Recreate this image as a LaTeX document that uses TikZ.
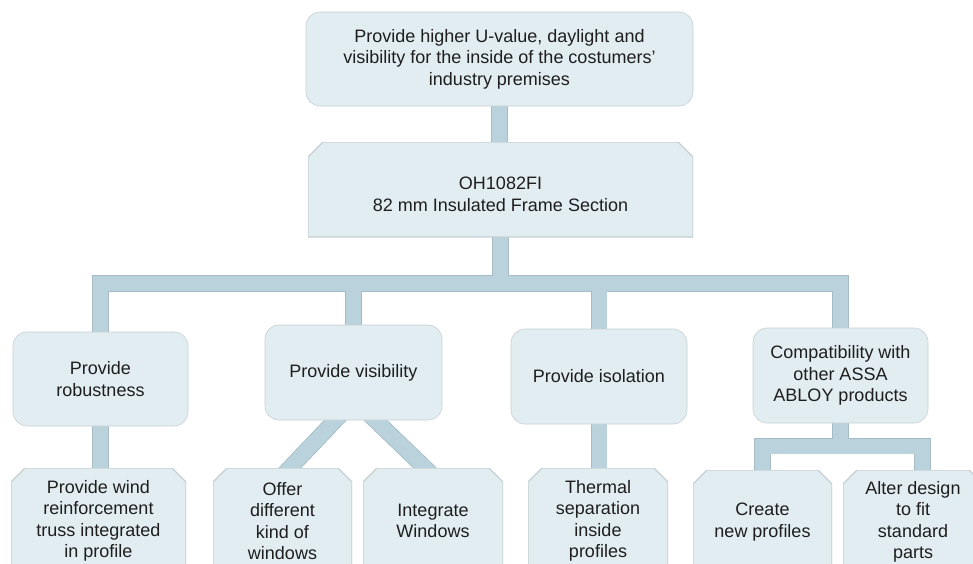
\documentclass[tikz,border=0pt]{standalone}
\usepackage{fontspec}
\setmainfont{Liberation Sans}
\usetikzlibrary{backgrounds}
\definecolor{boxfill}{HTML}{E2EDF1}
\definecolor{boxline}{HTML}{C6D0D4}
\definecolor{linkfill}{HTML}{B9D2DB}
\definecolor{linkedge}{HTML}{A6BCC4}
\definecolor{txt}{HTML}{1E1E1E}
\tikzset{
  box/.style={fill=boxfill, draw=boxline, line width=0.6pt, align=center,
    font=\fontsize{18}{21.5}\selectfont, text=txt, inner sep=0pt},
  roundbox/.style={box, rectangle, rounded corners=14pt},
  % rectangle with its two upper corners cut off (#1 = cut, #2 = unused strip at the bottom)
  snipcut/.style 2 args={box, rectangle, fill=none, draw=none,
    path picture={
      \path[fill=boxfill, draw=boxline, line width=1.2pt]
        ([yshift=#2]path picture bounding box.south west)
        -- ([yshift=-#1]path picture bounding box.north west)
        -- ([xshift=#1]path picture bounding box.north west)
        -- ([xshift=-#1]path picture bounding box.north east)
        -- ([yshift=-#1]path picture bounding box.north east)
        -- ([yshift=#2]path picture bounding box.south east) -- cycle;
    }},
  snipbox/.style={snipcut={#1}{0pt}},
  snipbox/.default=14pt,
  linkedge/.style={draw=linkedge, line width=16.6pt, line cap=butt, line join=miter},
  linkfill/.style={draw=linkfill, line width=15pt, line cap=butt, line join=miter},
}
\begin{document}
\begin{tikzpicture}[x=1pt,y=-1pt]
\useasboundingbox (0,0) rectangle (973,563);
\clip (0,0) rectangle (973,563);

% goal
\node[roundbox, minimum width=387pt, minimum height=94pt] (goal) at (499.5,59)
  {Provide higher U-value, daylight and\\visibility for the inside of the costumers'\\industry premises};
% product (text sits a little low in its box)
\node[snipcut={15pt}{10pt}, minimum width=385pt, minimum height=105pt] (prod) at (500.5,194.5)
  {OH1082FI\\82 mm Insulated Frame Section};

% functions
\node[roundbox, minimum width=175pt, minimum height=94pt] (rob) at (100.5,379) {Provide\\robustness};
\node[roundbox, minimum width=177pt, minimum height=95pt] (vis) at (353.5,372.5) {Provide visibility};
\node[roundbox, minimum width=176pt, minimum height=95pt] (iso) at (599,376.5) {Provide isolation};
\node[roundbox, minimum width=175pt, minimum height=95pt] (comp) at (840.5,375.5)
  {Compatibility with\\other ASSA\\ABLOY products};

% solutions
\node[snipbox, minimum width=175pt, minimum height=106pt] (wind) at (98.5,521)
  {Provide wind\\reinforcement\\truss integrated\\in profile};
\node[snipbox, minimum width=139pt, minimum height=106pt] (offer) at (282.5,521)
  {Offer\\different\\kind of\\windows};
\node[snipbox, minimum width=140pt, minimum height=106pt] (integ) at (433,521)
  {Integrate\\Windows};
\node[snipbox, minimum width=140pt, minimum height=106pt] (therm) at (598,521)
  {Thermal\\separation\\inside\\profiles};
\node[snipbox, minimum width=139pt, minimum height=104pt] (create) at (762.5,522)
  {Create\\new profiles};
\node[snipbox, minimum width=140pt, minimum height=104pt] (alter) at (913,522)
  {Alter design\\to fit\\standard\\parts};

\coordinate (bar) at (0,283.5);
\coordinate (cbar) at (0,446);
\coordinate (vj) at (354.5,400);
\coordinate (altin) at (922.5,470);

\begin{scope}[on background layer]
  \foreach \s in {linkedge,linkfill}{
    \draw[\s] (goal.south) -- (goal.south |- prod.north);
    \draw[\s] (prod.center) -- (prod.center |- bar);
    \draw[\s] (rob.north) -- (rob.north |- bar) -- (comp.north |- bar) -- (comp.north);
    \draw[\s] (vis.north) -- (vis.north |- bar);
    \draw[\s] (iso.north) -- (iso.north |- bar);
    \draw[\s] (rob.south) -- (rob.south |- wind.north);
    \draw[\s] (iso.south) -- (iso.south |- therm.north);
    \draw[\s] (comp.south) -- (comp.south |- cbar);
    \draw[\s] (create.north) -- (create.north |- cbar) -- (altin |- cbar) -- (altin);
    \draw[\s] (vj) -- ([yshift=-8pt]offer.north);
    \draw[\s] (vj) -- ([yshift=-8pt]integ.north);
  }
\end{scope}
\end{tikzpicture}
\end{document}
